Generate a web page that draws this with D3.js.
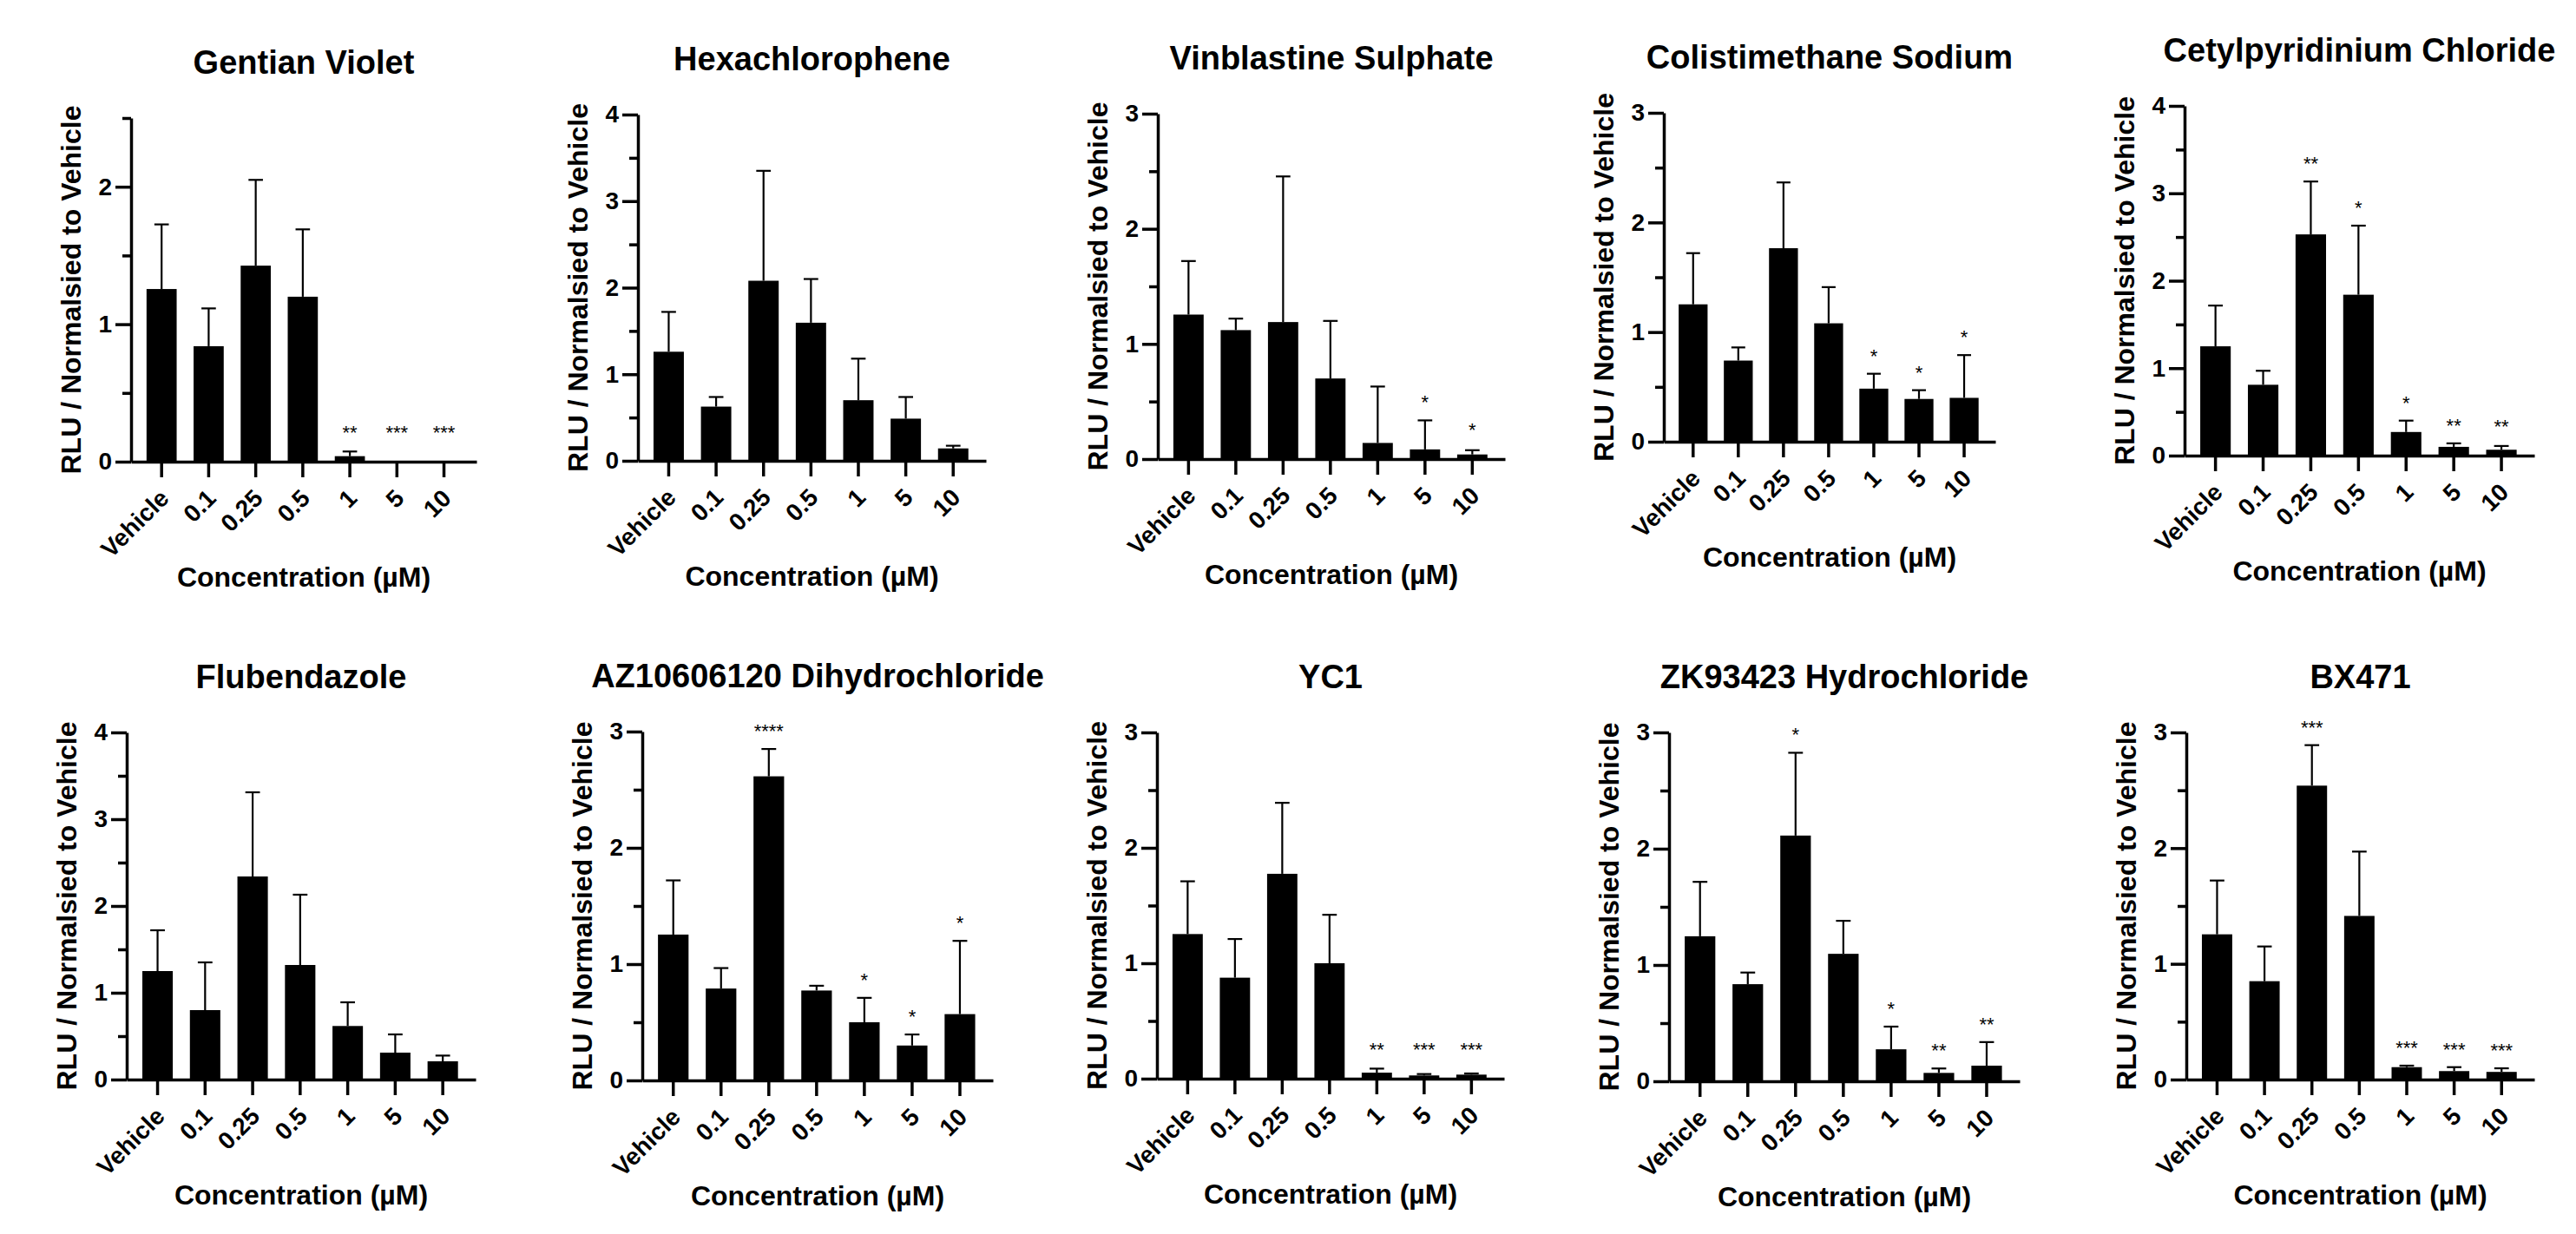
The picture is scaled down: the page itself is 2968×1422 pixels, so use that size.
<!DOCTYPE html>
<html>
<head>
<meta charset="utf-8">
<script src="https://cdn.jsdelivr.net/npm/d3@7"></script>
<style>
    body {margin: 0; background: #fff;}
    svg text {font-family: "Liberation Sans", Arial, Helvetica, sans-serif; fill: #000;}
    .axis path, .axis line {stroke: #000; stroke-width: 3.5px;}
    .axis text {font-size: 28px; font-weight: bold;}
    .title {font-size: 38px; font-weight: bold;}
    .label {font-size: 32px; font-weight: bold;}
    .sig {font-size: 22px;}
    .err line {stroke: #000; stroke-width: 2.2px;}
</style>
</head>
<body>
<svg id="fig"></svg>
<script>
// ---- data (mean, SD above mean, significance) ----
const categories = ["Vehicle", "0.1", "0.25", "0.5", "1", "5", "10"];
const drugNames = ["Gentian Violet", "Hexachlorophene", "Vinblastine Sulphate", "Colistimethane Sodium",
    "Cetylpyridinium Chloride", "Flubendazole", "AZ10606120 Dihydrochloride", "YC1",
    "ZK93423 Hydrochloride", "BX471"];
const yMaxes = [2.5, 4, 3, 3, 4, 4, 3, 3, 3, 3];

const gentianMean = [1.256, 0.84, 1.426, 1.20, 0.04, 0, 0];
const gentianSD   = [0.47, 0.275, 0.624, 0.49, 0.034, 0, 0];
const gentianSig  = ["", "", "", "", "**", "***", "***"];

const hexaMean = [1.26, 0.626, 2.08, 1.595, 0.70, 0.487, 0.143];
const hexaSD   = [0.46, 0.111, 1.27, 0.505, 0.48, 0.25, 0.031];
const hexaSig  = ["", "", "", "", "", "", ""];

const vinblastineMean = [1.255, 1.12, 1.19, 0.70, 0.14, 0.084, 0.04];
const vinblastineSD   = [0.465, 0.10, 1.265, 0.50, 0.49, 0.252, 0.037];
const vinblastineSig  = ["", "", "", "", "", "*", "*"];

const colistiMean = [1.253, 0.74, 1.765, 1.08, 0.484, 0.39, 0.40];
const colistiSD   = [0.467, 0.12, 0.60, 0.33, 0.136, 0.08, 0.39];
const colistiSig  = ["", "", "", "", "*", "*", "*"];

const cetylMean = [1.25, 0.81, 2.53, 1.84, 0.27, 0.10, 0.067];
const cetylSD   = [0.466, 0.16, 0.605, 0.79, 0.13, 0.04, 0.043];
const cetylSig  = ["", "", "**", "*", "*", "**", "**"];

const flubenMean = [1.25, 0.80, 2.34, 1.32, 0.617, 0.31, 0.21];
const flubenSD   = [0.47, 0.55, 0.97, 0.81, 0.273, 0.21, 0.066];
const flubenSig  = ["", "", "", "", "", "", ""];

const azMean = [1.254, 0.79, 2.615, 0.773, 0.50, 0.30, 0.57];
const azSD   = [0.466, 0.176, 0.235, 0.041, 0.21, 0.095, 0.63];
const azSig  = ["", "", "****", "", "*", "*", "*"];

const yc1Mean = [1.253, 0.875, 1.775, 1.0, 0.052, 0.028, 0.035];
const yc1SD   = [0.457, 0.335, 0.615, 0.42, 0.035, 0.012, 0.01];
const yc1Sig  = ["", "", "", "", "**", "***", "***"];

const zkMean = [1.247, 0.835, 2.113, 1.096, 0.275, 0.072, 0.134];
const zkSD   = [0.468, 0.10, 0.712, 0.284, 0.195, 0.038, 0.203];
const zkSig  = ["", "", "*", "", "*", "**", "**"];

const bxMean = [1.255, 0.85, 2.54, 1.414, 0.107, 0.073, 0.066];
const bxSD   = [0.465, 0.30, 0.35, 0.556, 0.013, 0.034, 0.031];
const bxSig  = ["", "", "***", "", "***", "***", "***"];

const panelMeans = [gentianMean, hexaMean, vinblastineMean, colistiMean, cetylMean,
    flubenMean, azMean, yc1Mean, zkMean, bxMean];
const panelSDs = [gentianSD, hexaSD, vinblastineSD, colistiSD, cetylSD,
    flubenSD, azSD, yc1SD, zkSD, bxSD];
const panelSig = [gentianSig, hexaSig, vinblastineSig, colistiSig, cetylSig,
    flubenSig, azSig, yc1Sig, zkSig, bxSig];

// ---- layout: y-axis x, zero line, axis top, end of x axis ----
const panelLayout = [
    {x: 151, y0: 532, top: 136, right: 549},
    {x: 735, y0: 531, top: 132, right: 1136},
    {x: 1334, y0: 529, top: 131, right: 1734},
    {x: 1917, y0: 509, top: 130, right: 2299},
    {x: 2517, y0: 525, top: 122, right: 2920},
    {x: 146, y0: 1244, top: 844, right: 548},
    {x: 740, y0: 1245, top: 843, right: 1144},
    {x: 1333, y0: 1243, top: 844, right: 1733},
    {x: 1923, y0: 1246, top: 844, right: 2327},
    {x: 2519, y0: 1244, top: 844, right: 2920}
];

const svg = d3.select("#fig")
    .attr("width", 2968)
    .attr("height", 1422);
svg.append("rect").attr("width", 2968).attr("height", 1422).attr("fill", "#fff");

function drawPanel(i) {
    const L = panelLayout[i];
    const yMax = yMaxes[i];
    const data = categories.map((c, j) => ({
        key: c, mean: panelMeans[i][j], sd: panelSDs[i][j], sig: panelSig[i][j]
    }));

    const x = d3.scaleBand()
        .domain(categories)
        .range([L.x, L.right])
        .paddingInner(0.36)
        .paddingOuter(0.35)
        .align(0.47);
    const y = d3.scaleLinear()
        .domain([0, yMax])
        .range([L.y0, L.top]);

    const g = svg.append("g").attr("class", "panel");

    // bars
    g.selectAll(".bar")
        .data(data)
        .enter().append("rect")
        .attr("class", "bar")
        .attr("x", d => x(d.key))
        .attr("width", x.bandwidth())
        .attr("y", d => y(d.mean))
        .attr("height", d => y(0) - y(d.mean))
        .attr("fill", "#000");

    // error bars (upper only)
    const capW = x.bandwidth() * 0.48;
    const err = g.selectAll(".err")
        .data(data.filter(d => d.sd > 0))
        .enter().append("g")
        .attr("class", "err")
        .attr("transform", d => `translate(${x(d.key) + x.bandwidth() / 2},0)`);
    err.append("line")
        .attr("x1", 0).attr("x2", 0)
        .attr("y1", d => y(d.mean))
        .attr("y2", d => y(d.mean + d.sd));
    err.append("line")
        .attr("x1", -capW / 2).attr("x2", capW / 2)
        .attr("y1", d => y(d.mean + d.sd))
        .attr("y2", d => y(d.mean + d.sd));

    // significance stars
    g.selectAll(".sig")
        .data(data.filter(d => d.sig !== ""))
        .enter().append("text")
        .attr("class", "sig")
        .attr("text-anchor", "middle")
        .attr("x", d => x(d.key) + x.bandwidth() / 2)
        .attr("y", d => Math.min(y(d.mean + d.sd) - 13, y(0) - 26))
        .text(d => d.sig);

    // y axis: labelled major ticks + minor half ticks
    g.append("g")
        .attr("class", "axis")
        .attr("transform", `translate(${L.x},0)`)
        .call(d3.axisLeft(y).tickValues(d3.range(0.5, yMax + 0.001, 1)).tickSize(10).tickSizeOuter(0).tickFormat(""))
        .select(".domain").remove();
    g.append("g")
        .attr("class", "axis")
        .attr("transform", `translate(${L.x},0)`)
        .call(d3.axisLeft(y).tickValues(d3.range(0, yMax + 0.001, 1)).tickSize(18).tickSizeOuter(0)
            .tickPadding(4).tickFormat(d3.format("d")));

    // x axis
    const xa = g.append("g")
        .attr("class", "axis")
        .attr("transform", `translate(0,${L.y0})`)
        .call(d3.axisBottom(x).tickSize(18).tickSizeOuter(0));
    xa.selectAll("text")
        .attr("x", 0).attr("y", 0).attr("dy", 0)
        .attr("text-anchor", "end")
        .attr("transform", "translate(10,44) rotate(-45)");

    const cx = (L.x + L.right) / 2;
    g.append("text")
        .attr("class", "title")
        .attr("text-anchor", "middle")
        .attr("x", cx).attr("y", L.top - 51)
        .text(drugNames[i]);
    g.append("text")
        .attr("class", "label")
        .attr("text-anchor", "middle")
        .attr("x", cx).attr("y", L.y0 + 144)
        .text("Concentration (µM)");
    g.append("text")
        .attr("class", "label")
        .attr("text-anchor", "middle")
        .attr("transform", `translate(${L.x - 58},${(L.y0 + L.top) / 2}) rotate(-90)`)
        .text("RLU / Normalsied to Vehicle");
}

drugNames.forEach((d, i) => drawPanel(i));
</script>
</body>
</html>
